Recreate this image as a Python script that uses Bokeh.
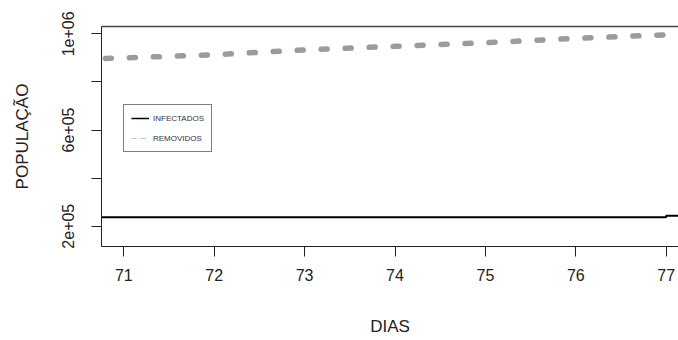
from bokeh.plotting import figure
from bokeh.models import Range1d, FixedTicker, LinearAxis, Legend, LegendItem
from bokeh.embed import file_html
from bokeh.resources import INLINE

# Data
days = [70, 71, 72, 73, 74, 75, 76, 77, 78]
infectados = [237000, 237200, 237300, 237400, 237400, 237500, 237500, 243000, 243500]
removidos = [888000, 900000, 913000, 933000, 948000, 963000, 981000, 996000, 1010000]
x_ticks = [71, 72, 73, 74, 75, 76, 77]
y_ticks = [200000, 400000, 600000, 800000, 1000000]
y_tick_labels = {200000: "2e+05", 400000: "", 600000: "6e+05", 800000: "", 1000000: "1e+06"}
nan = float("nan")

FONT = "Liberation Sans"
TXT = "#222222"

p = figure(width=678, height=340, output_backend="svg", toolbar_location=None,
           x_range=Range1d(70.753, 77.136), y_range=Range1d(115600, 1030400),
           min_border_left=101, min_border_right=0, min_border_top=26, min_border_bottom=94)
p.outline_line_color = None
p.grid.grid_line_color = None
p.background_fill_color = "white"
p.border_fill_color = "white"

# x axis
xa = p.xaxis[0]
xa.ticker = FixedTicker(ticks=x_ticks)
xa.axis_label = "DIAS"
xa.axis_label_text_font = FONT
xa.axis_label_text_font_style = "normal"
xa.axis_label_text_font_size = "17px"
xa.axis_label_text_color = TXT
xa.axis_label_standoff = 33
xa.major_label_text_font = FONT
xa.major_label_text_font_size = "16px"
xa.major_label_text_color = TXT
xa.major_label_standoff = 12
xa.major_tick_out = 10
xa.major_tick_in = 0
xa.minor_tick_line_color = None
xa.axis_line_color = "#222222"
xa.major_tick_line_color = "#222222"

# y axis
ya = p.yaxis[0]
ya.ticker = FixedTicker(ticks=y_ticks)
ya.major_label_overrides = y_tick_labels
ya.major_label_orientation = "vertical"
ya.axis_label = "POPULAÇÃO"
ya.axis_label_text_font = FONT
ya.axis_label_text_font_style = "normal"
ya.axis_label_text_font_size = "17px"
ya.axis_label_text_color = TXT
ya.axis_label_standoff = 28
ya.major_label_text_font = FONT
ya.major_label_text_font_size = "16px"
ya.major_label_text_color = TXT
ya.major_label_standoff = 17
ya.major_tick_out = 10
ya.major_tick_in = 0
ya.minor_tick_line_color = None
ya.axis_line_color = "#222222"
ya.major_tick_line_color = "#222222"

# top border line
top = LinearAxis(ticker=FixedTicker(ticks=[]), major_tick_line_color=None,
                 minor_tick_line_color=None, axis_line_color="#444444", axis_line_width=1.5)
p.add_layout(top, "above")

# series
p.step(days, infectados, mode="after", line_color="black", line_width=2)
p.line(days, removidos, line_color="#9c9c9c", line_width=5.5, line_dash="6 18",
       line_cap="round")

# legend proxies (styled like the legend key)
li = p.line(x=[nan], y=[nan], line_color="black", line_width=1.5)
lr = p.line(x=[nan], y=[nan], line_color="#c4c4c4", line_width=1.2, line_dash="5 4")

legend = Legend(items=[LegendItem(label="INFECTADOS", renderers=[li]),
                       LegendItem(label="REMOVIDOS", renderers=[lr])],
                location=(22, 94))
legend.label_text_font = FONT
legend.label_text_font_size = "8px"
legend.label_text_color = "#333344"
legend.glyph_width = 18
legend.glyph_height = 12
legend.label_height = 12
legend.spacing = 8
legend.padding = 7
legend.margin = 0
legend.label_standoff = 4
legend.border_line_color = "black"
legend.border_line_width = 1
legend.background_fill_alpha = 1
p.add_layout(legend, "center")

open("out.html", "w").write(file_html(p, INLINE))
